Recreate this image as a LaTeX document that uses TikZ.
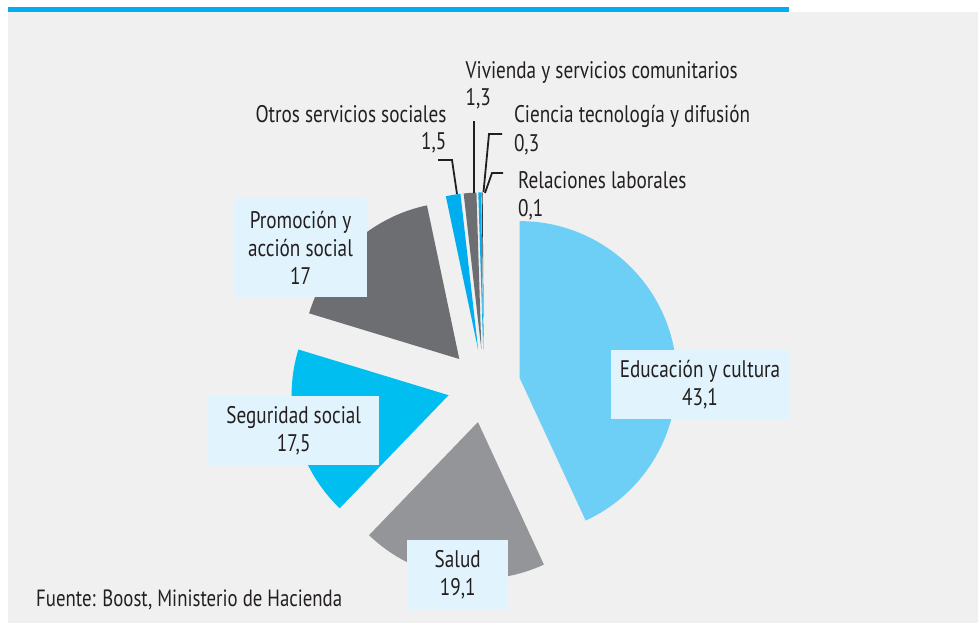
\documentclass[tikz,border=0pt]{standalone}
\usepackage{fontspec}
\setmainfont[FakeStretch=0.8]{PT Sans}
\definecolor{bgray}{HTML}{EFF0EF}
\definecolor{barblue}{HTML}{00AEEF}
\definecolor{cedu}{HTML}{6DCFF6}
\definecolor{csal}{HTML}{939598}
\definecolor{cseg}{HTML}{00BFF0}
\definecolor{cprom}{HTML}{6D6E71}
\definecolor{cotros}{HTML}{00AEEF}
\definecolor{cviv}{HTML}{6D6E71}
\definecolor{ccien}{HTML}{00AEEF}
\definecolor{crel}{HTML}{3A3A3C}
\definecolor{boxfill}{HTML}{E1F3FC}
\definecolor{txt}{HTML}{231F20}
\newcommand\pieslice[3]{%
  \pgfmathsetmacro\bisang{(#2+#3)/2}%
  \fill[#1, shift={(\bisang:36.6pt)}] (484pt,237pt) -- ++(#2:157pt) arc[start angle=#2, end angle=#3, radius=157pt] -- cycle;}
\begin{document}
\begin{tikzpicture}[x=1pt,y=1pt,
  lbl/.style={inner sep=0pt, font=\fontsize{24}{28}\selectfont, text=txt},
  valbox/.style={fill=boxfill, inner sep=0pt, align=center, font=\fontsize{24}{28}\selectfont, text=txt},
  leader/.style={draw=txt, line width=1.8pt}]
\useasboundingbox (0,0) rectangle (978,623);
\fill[white] (0,0) rectangle (978,623);
\fill[bgray] (8,0) rectangle (978,611);
\fill[barblue] (8,611) rectangle (789,616);
% slices
\pieslice{cedu}{90}{-65.16}
\pieslice{csal}{-65.16}{-133.92}
\pieslice{cseg}{-133.92}{-196.92}
\pieslice{cprom}{-196.92}{-258.12}
\pieslice{cotros}{-258.12}{-263.52}
\pieslice{cviv}{-263.52}{-268.2}
\pieslice{ccien}{-268.2}{-269.28}
\pieslice{crel}{-269.28}{-269.64}
% boxed labels
\node[valbox, minimum width=133, minimum height=100] (prom) at (300.5,375.5) {Promoción y\\acción social\\17};
\node[valbox, minimum width=171, minimum height=69] (seg) at (293.7,192.5) {Seguridad social\\17,5};
\node[valbox, minimum width=178, minimum height=69] (edu) at (700,238.5) {Educación y cultura\\43,1};
\node[valbox, minimum width=101, minimum height=69] (sal) at (457.7,48) {Salud\\19,1};
% free labels
\node[lbl, anchor=base west] (viv) at (465.5,544.5) {Vivienda y servicios comunitarios};
\node[lbl, anchor=base west] (vivv) at (465.5,517.5) {1,3};
\node[lbl, anchor=base east] (otros) at (446.6,500.3) {Otros servicios sociales};
\node[lbl, anchor=base east] (otrosv) at (446.6,473) {1,5};
\node[lbl, anchor=base west] (cien) at (513.8,500.3) {Ciencia tecnología y difusión};
\node[lbl, anchor=base west] (cienv) at (513.8,471.3) {0,3};
\node[lbl, anchor=base west] (rel) at (518,434.7) {Relaciones laborales};
\node[lbl, anchor=base west] (relv) at (518,406.3) {0,1};
\node[lbl, anchor=base west, font=\fontsize{23.5}{28}\selectfont] (src) at (36,16) {Fuente: Boost, Ministerio de Hacienda};
% leader coordinates
\coordinate (otrosA) at (438,463);
\coordinate (otrosB) at (452,463);
\coordinate (otrosC) at (457,429);
\coordinate (vivA) at (474,502);
\coordinate (vivC) at (474,430);
\coordinate (cienA) at (502,489);
\coordinate (cienB) at (489,489);
\coordinate (cienC) at (483.5,431);
\coordinate (relA) at (503,450);
\coordinate (relB) at (492,450);
\coordinate (relC) at (485,430);
\draw[leader] (otrosA) -- (otrosB) -- (otrosC);
\draw[leader] (vivA) -- (vivC);
\draw[leader] (cienA) -- (cienB) -- (cienC);
\draw[leader] (relA) -- (relB) -- (relC);
\end{tikzpicture}
\end{document}
